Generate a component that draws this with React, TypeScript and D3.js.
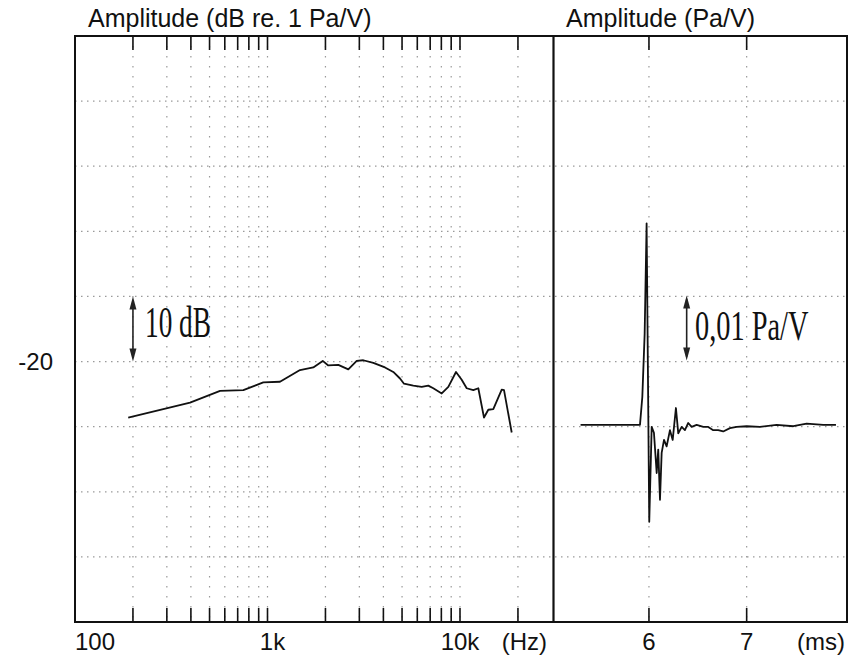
import React from "react";
import * as d3 from "d3";

// frequency response (left panel)
const freqHz = [189, 396, 567, 749, 951, 1161, 1475, 1729, 1936, 2069, 2333, 2629, 2906, 3145, 3545, 4077, 4503, 4879, 5118, 5721, 6324, 6844, 7266, 8036, 8696, 9533, 10205, 10834, 11725, 12450, 13326, 14028, 14894, 16470, 16930, 18560];
const levelDb = [-28.6, -26.3, -24.5, -24.4, -23.2, -23.1, -21.3, -20.9, -19.9, -20.6, -20.5, -21.2, -19.9, -19.8, -20.2, -20.9, -21.6, -22.6, -23.4, -23.7, -23.9, -23.7, -24.1, -24.9, -23.9, -21.6, -22.8, -24.1, -24.4, -24.1, -28.6, -27.4, -27.3, -24.3, -24.4, -30.9];

// impulse response (right panel)
const timeMs = [5.3, 5.908, 5.932, 5.956, 5.976, 6.003, 6.028, 6.051, 6.079, 6.095, 6.113, 6.13, 6.154, 6.181, 6.215, 6.243, 6.276, 6.3, 6.335, 6.368, 6.402, 6.437, 6.488, 6.556, 6.607, 6.658, 6.709, 6.76, 6.829, 6.897, 7.0, 7.136, 7.307, 7.477, 7.614, 7.784, 7.914];
const pressure = [0, 0, 0.0043, 0.014, 0.031, -0.0149, -0.0003, -0.0012, -0.0074, -0.0038, -0.0115, -0.0043, -0.0023, -0.0033, -0.0008, -0.0023, 0.0026, -0.0013, -0.0003, -0.0008, 0.0003, -0.0003, 0, -0.0003, -0.0003, -0.0008, -0.0008, -0.001, -0.0005, -0.0003, -0.0002, -0.0003, 0, -0.0002, 0.0002, 0, 0];

const freqTicks = [200, 300, 400, 500, 600, 700, 800, 900, 1000, 2000, 3000, 4000, 5000, 6000, 7000, 8000, 9000, 10000, 20000];
const freqLabelValues = [100, 1000, 10000];
const freqLabels = ["100", "1k", "10k"];
const timeTicks = [6, 7];
const dbGrid = [20, 10, 0, -10, -20, -30, -40, -50];

const W = 861;
const H = 660;
const left = 75;
const right = 847;
const top = 36;
const bottom = 622;
const split = 553.5;

const SANS = "'Liberation Sans', Arial, sans-serif";
const SERIF = "'Liberation Serif', 'Times New Roman', serif";

const Arrow = ({ x, y1, y2 }: { x: number; y1: number; y2: number }) => {
  const hw = 3.5, hl = 13;
  return (
    <g>
      <line x1={x} x2={x} y1={y1 + 4} y2={y2 - 4} stroke="#222" strokeWidth={1.6} />
      <path d={`M${x},${y1} L${x - hw},${y1 + hl} L${x + hw},${y1 + hl} Z`} fill="#222" />
      <path d={`M${x},${y2} L${x - hw},${y2 - hl} L${x + hw},${y2 - hl} Z`} fill="#222" />
    </g>
  );
};

export default function App() {
  const xF = d3.scaleLog().domain([100, 30600]).range([left, split]);
  const yDb = d3.scaleLinear().domain([-60, 30]).range([bottom, top]);
  const xT = d3.scaleLinear().domain([5.023, 8.027]).range([split, right]);
  const yP = d3.scaleLinear().domain([-0.0303, 0.0598]).range([bottom, top]);

  const freqLine = d3
    .line<number>()
    .x((_, i) => xF(freqHz[i]))
    .y((d) => yDb(d))
    .curve(d3.curveLinear);
  const timeLine = d3
    .line<number>()
    .x((_, i) => xT(timeMs[i]))
    .y((d) => yP(d))
    .curve(d3.curveLinear);

  const tickLen = 14;

  return (
    <svg
      width={W}
      height={H}
      style={{ position: "absolute", left: 0, top: 0, background: "#fff" }}
    >
      {/* horizontal dotted grid */}
      {dbGrid.map((v) => (
        <line
          key={"h" + v}
          x1={left}
          x2={right}
          y1={yDb(v)}
          y2={yDb(v)}
          stroke="#9a9a9a"
          strokeWidth={1.2}
          strokeDasharray="1.5 4.5"
        />
      ))}
      {/* vertical dotted grid */}
      {freqTicks.map((f) => (
        <line
          key={"vf" + f}
          x1={xF(f)}
          x2={xF(f)}
          y1={top}
          y2={bottom}
          stroke="#999"
          strokeWidth={1.2}
          strokeDasharray="1.5 8.5"
        />
      ))}
      {timeTicks.map((t) => (
        <line
          key={"vt" + t}
          x1={xT(t)}
          x2={xT(t)}
          y1={top}
          y2={bottom}
          stroke="#999"
          strokeWidth={1.2}
          strokeDasharray="1.5 8.5"
        />
      ))}

      {/* tick marks */}
      {freqTicks.map((f) => (
        <g key={"tf" + f} stroke="#111" strokeWidth={1.6}>
          <line x1={xF(f)} x2={xF(f)} y1={top} y2={top + tickLen} />
          <line x1={xF(f)} x2={xF(f)} y1={bottom} y2={bottom - tickLen} />
        </g>
      ))}
      {timeTicks.map((t) => (
        <g key={"tt" + t} stroke="#111" strokeWidth={1.6}>
          <line x1={xT(t)} x2={xT(t)} y1={top} y2={top + tickLen} />
          <line x1={xT(t)} x2={xT(t)} y1={bottom} y2={bottom - tickLen} />
        </g>
      ))}

      {/* curves */}
      <path d={freqLine(levelDb) || ""} fill="none" stroke="#111" strokeWidth={1.8} strokeLinejoin="round" />
      <path d={timeLine(pressure) || ""} fill="none" stroke="#111" strokeWidth={1.8} strokeLinejoin="round" />

      {/* frame */}
      <rect x={left} y={top} width={right - left} height={bottom - top} fill="none" stroke="#111" strokeWidth={2} />
      <line x1={split} x2={split} y1={top} y2={bottom} stroke="#111" strokeWidth={2.2} />

      {/* scale arrows */}
      <Arrow x={xF(200)} y1={yDb(-10)} y2={yDb(-20)} />
      <text transform="translate(145,337) scale(0.62,1)" fontFamily={SERIF} fontSize={44} fill="#111">
        10 dB
      </text>
      <Arrow x={xT(6.386)} y1={yP(0.0199)} y2={yP(0.0099)} />
      <text transform="translate(695,340) scale(0.66,1)" fontFamily={SERIF} fontSize={43} fill="#111">
        0,01 Pa/V
      </text>

      {/* titles */}
      <text x={88} y={27} fontFamily={SANS} fontSize={25} fill="#111">
        Amplitude (dB re. 1 Pa/V)
      </text>
      <text x={566} y={27} fontFamily={SANS} fontSize={25} fill="#111">
        Amplitude (Pa/V)
      </text>

      {/* y label */}
      <text x={53} y={yDb(-20) + 8} textAnchor="end" fontFamily={SANS} fontSize={24} fill="#111">
        -20
      </text>

      {/* x labels */}
      {freqLabelValues.map((f, i) => (
        <text
          key={"lf" + f}
          x={i === 0 ? xF(f) : xF(f) + (i === 1 ? 5 : 0)}
          y={650}
          textAnchor={i === 0 ? "start" : "middle"}
          fontFamily={SANS}
          fontSize={24}
          fill="#111"
        >
          {freqLabels[i]}
        </text>
      ))}
      <text x={547} y={650} textAnchor="end" fontFamily={SANS} fontSize={24} fill="#111">
        (Hz)
      </text>
      {timeTicks.map((t) => (
        <text key={"lt" + t} x={xT(t)} y={650} textAnchor="middle" fontFamily={SANS} fontSize={24} fill="#111">
          {t}
        </text>
      ))}
      <text x={845} y={650} textAnchor="end" fontFamily={SANS} fontSize={24} fill="#111">
        (ms)
      </text>
    </svg>
  );
}
